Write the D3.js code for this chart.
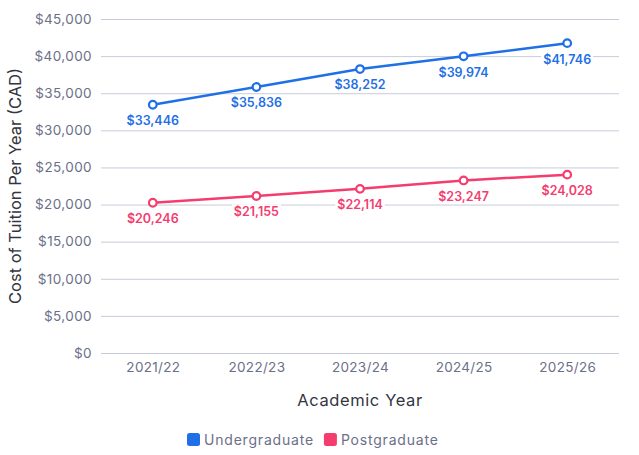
<!DOCTYPE html>
<html lang="en">
<head>
  <meta charset="UTF-8">
  <title>Tuition cost per year</title>
  <script src="https://d3js.org/d3.v7.min.js"></script>
  <style>
    body { margin: 0; background: #fff; }
    text { font-family: Inter, "Open Sans", sans-serif; }
  </style>
</head>
<body>
  <svg id="chart" width="639" height="455"></svg>

  <script>
    // data
    const years = ['2021/22', '2022/23', '2023/24', '2024/25', '2025/26'];
    const undergrad = [33446, 35836, 38252, 39974, 41746];
    const postgrad = [20246, 21155, 22114, 23247, 24028];
    const yTicks = [0, 5000, 10000, 15000, 20000, 25000, 30000, 35000, 40000, 45000];

    const series = [
      { name: 'Undergraduate', values: undergrad, color: '#1f6fe6' },
      { name: 'Postgraduate', values: postgrad, color: '#f43d6e' }
    ];

    const svg = d3.select('#chart');
    const margin = { top: 19, right: 20, bottom: 102, left: 101 };
    const width = 639 - margin.left - margin.right;
    const height = 455 - margin.top - margin.bottom;

    const g = svg.append('g')
      .attr('transform', `translate(${margin.left},${margin.top})`);

    const x = d3.scalePoint()
      .domain(years)
      .range([0, width])
      .padding(0.5);

    const y = d3.scaleLinear()
      .domain([0, 45000])
      .range([height, 0]);

    const fmt = v => '$' + d3.format(',')(v);

    // gridlines + y labels
    const yAxis = g.append('g')
      .call(d3.axisLeft(y).tickValues(yTicks).tickSize(-width).tickPadding(9).tickFormat(fmt));
    yAxis.select('.domain').remove();
    yAxis.selectAll('line').attr('stroke', '#c8ccda').attr('stroke-width', 1);
    yAxis.selectAll('text').attr('fill', '#6b7088').style('font-size', '13.5px').style('letter-spacing', '0.4px');

    // x labels
    const xAxis = g.append('g')
      .attr('transform', `translate(0,${height})`)
      .call(d3.axisBottom(x).tickSize(0).tickPadding(9));
    xAxis.select('.domain').remove();
    xAxis.selectAll('text').attr('fill', '#6b7088').style('font-size', '13.5px').style('letter-spacing', '0.3px');

    // axis titles
    svg.append('text')
      .attr('x', margin.left + width / 2)
      .attr('y', 406)
      .attr('text-anchor', 'middle')
      .attr('fill', '#33363f')
      .style('font-size', '16.5px')
      .style('letter-spacing', '0.6px')
      .text('Academic Year');

    svg.append('text')
      .attr('transform', `translate(21,${margin.top + height / 2}) rotate(-90)`)
      .attr('text-anchor', 'middle')
      .attr('fill', '#33363f')
      .style('font-size', '16.5px')
      .text('Cost of Tuition Per Year (CAD)');

    const line = d3.line()
      .x((d, i) => x(years[i]))
      .y(d => y(d));

    series.forEach(s => {
      g.append('path')
        .datum(s.values)
        .attr('fill', 'none')
        .attr('stroke', s.color)
        .attr('stroke-width', 2.5)
        .attr('d', line);

      // value labels under each point, with a white backing
      const lab = g.append('g').selectAll('g')
        .data(s.values)
        .join('g')
        .attr('transform', (d, i) => `translate(${x(years[i])},${y(d) + 16})`);
      lab.append('text')
        .attr('text-anchor', 'middle')
        .attr('dy', '0.35em')
        .attr('fill', s.color)
        .style('font-size', '12.5px')
        .style('font-weight', 600)
        .text(fmt)
        .each(function () {
          const b = this.getBBox();
          d3.select(this.parentNode).insert('rect', 'text')
            .attr('x', b.x - 2).attr('y', b.y)
            .attr('width', b.width + 4).attr('height', b.height)
            .attr('fill', '#fff');
        });

      g.append('g').selectAll('circle')
        .data(s.values)
        .join('circle')
        .attr('cx', (d, i) => x(years[i]))
        .attr('cy', d => y(d))
        .attr('r', 3.8)
        .attr('fill', '#fff')
        .attr('stroke', s.color)
        .attr('stroke-width', 2.2);
    });

    // legend
    const legend = svg.append('g').attr('transform', 'translate(187,433)');
    let lx = 0;
    series.forEach(s => {
      const item = legend.append('g').attr('transform', `translate(${lx},0)`);
      item.append('rect')
        .attr('width', 13).attr('height', 13).attr('rx', 2.5)
        .attr('fill', s.color);
      const t = item.append('text')
        .attr('x', 17).attr('y', 7)
        .attr('dy', '0.35em')
        .attr('fill', '#6b7088')
        .style('font-size', '14px')
        .style('letter-spacing', '0.8px')
        .text(s.name);
      lx += 17 + t.node().getComputedTextLength() + 10;
    });
  </script>
</body>
</html>
